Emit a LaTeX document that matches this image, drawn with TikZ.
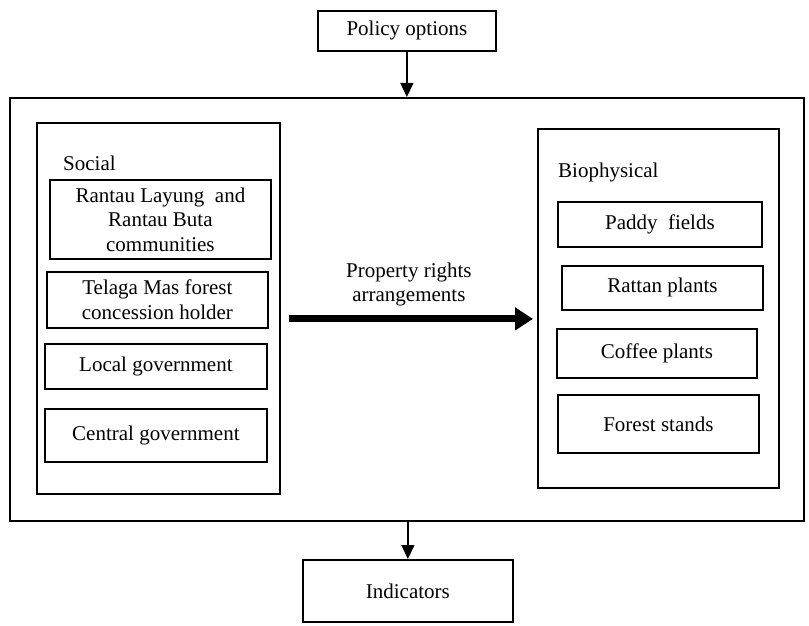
\documentclass[tikz,border=0pt]{standalone}
\usepackage{fontspec}
\setmainfont{Liberation Serif}
\usetikzlibrary{arrows.meta}
\begin{document}
\begin{tikzpicture}[x=1pt,y=-1pt,
  box/.style={draw, line width=1.8pt, inner sep=0pt, align=center, anchor=north west},
  lbl/.style={inner sep=0pt, anchor=west},
  flow/.style={line width=1.5pt, -{Triangle[width=13pt,length=14pt]}},
  bigflow/.style={line width=7pt, -{Triangle[width=22pt,length=18pt]}},
  every node/.style={font=\fontsize{21}{24.5}\selectfont}]
\useasboundingbox (0,0) rectangle (809,626);
% top and bottom boxes
\node[box, minimum width=178pt, minimum height=40pt] (policy) at (317,10) {Policy options};
\node[box, minimum width=210pt, minimum height=62pt] (ind) at (302,559) {Indicators};
% frame around the system
\node[box, minimum width=794pt, minimum height=423pt] (frame) at (9,97) {};
% social subsystem
\node[box, minimum width=243pt, minimum height=371pt] (social) at (36,122) {};
\node[lbl] (soclbl) at (63,163) {Social};
\node[box, minimum width=221pt, minimum height=79pt] (rantau) at (49,179) {Rantau Layung\ \ and\\Rantau Buta\\communities};
\node[box, minimum width=221pt, minimum height=56pt] (telaga) at (46,271) {Telaga Mas forest\\concession holder};
\node[box, minimum width=222pt, minimum height=45pt] (local) at (44,343) {Local government};
\node[box, minimum width=222pt, minimum height=53pt] (central) at (44,408) {Central government};
% biophysical subsystem
\node[box, minimum width=241pt, minimum height=359pt] (bio) at (537,128) {};
\node[lbl] (biolbl) at (558,172) {Biophysical};
\node[box, minimum width=204pt, minimum height=45pt] (paddy) at (557,201) {Paddy\ \ fields};
\node[box, minimum width=201pt, minimum height=44pt] (rattan) at (561,265) {Rattan plants};
\node[box, minimum width=200pt, minimum height=49pt] (coffee) at (556,328) {Coffee plants};
\node[box, minimum width=201pt, minimum height=58pt] (forest) at (557,394) {Forest stands};
% connectors
\draw[flow] (policy.south) -- (frame.north -| policy.south);
\draw[flow] (frame.south -| ind.north) -- (ind.north);
\draw[bigflow, shorten <=8pt, shorten >=4pt] ([yshift=-10.5pt]social.east) -- ([yshift=-10.5pt]bio.west)
  node[midway, above=6pt, align=center] (prop) {Property rights\\arrangements};
\end{tikzpicture}
\end{document}
